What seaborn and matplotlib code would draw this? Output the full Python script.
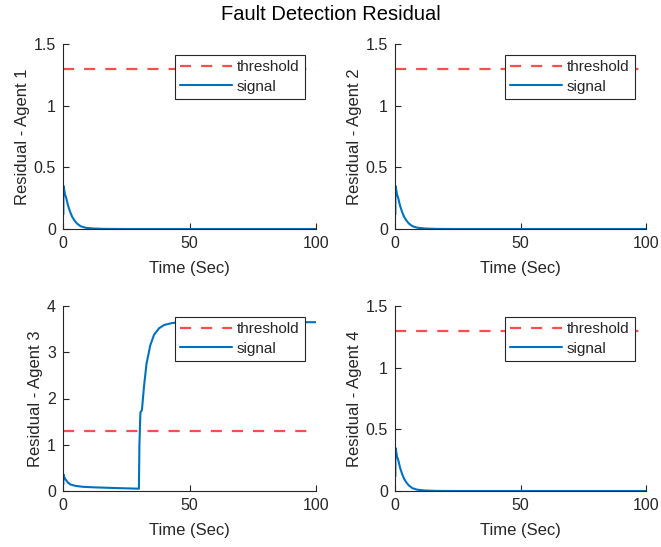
import matplotlib
matplotlib.use("Agg")
import matplotlib.pyplot as plt
import seaborn as sns
import pandas as pd

# ---- data ----
threshold = 1.3
t_range = [0, 100]

t_normal = [0.15, 0.15, 0.4, 0.8, 1.3, 2.0, 2.8, 3.6, 4.5, 5.5, 7.0, 9.0, 12.0, 16.0, 25.0, 100.0]
v_agent1 = [0.12, 0.35, 0.33, 0.28, 0.25, 0.19, 0.14, 0.10, 0.07, 0.045, 0.022, 0.010, 0.004, 0.001, 0.0, 0.0]
v_agent2 = [0.12, 0.35, 0.33, 0.28, 0.25, 0.19, 0.14, 0.10, 0.07, 0.045, 0.022, 0.010, 0.004, 0.001, 0.0, 0.0]
v_agent4 = [0.12, 0.35, 0.33, 0.28, 0.25, 0.19, 0.14, 0.10, 0.07, 0.045, 0.022, 0.010, 0.004, 0.001, 0.0, 0.0]

t_agent3 = [0.15, 0.15, 0.5, 1.0, 2.0, 3.0, 5.0, 8.0, 12.0, 20.0, 30.0, 30.2, 30.6, 31.2, 32.0, 33.0, 34.5, 36.0, 38.0, 40.0, 43.0, 46.0, 50.0, 100.0]
v_agent3 = [0.15, 0.36, 0.30, 0.25, 0.18, 0.14, 0.11, 0.09, 0.08, 0.065, 0.05, 1.0, 1.70, 1.75, 2.25, 2.75, 3.15, 3.38, 3.52, 3.59, 3.63, 3.65, 3.65, 3.65]

agents = ["Agent 1", "Agent 2", "Agent 3", "Agent 4"]
times = [t_normal, t_normal, t_agent3, t_normal]
values = [v_agent1, v_agent2, v_agent3, v_agent4]
ylims = [(0, 1.5), (0, 1.5), (0, 4), (0, 1.5)]
yticks = [[0, 0.5, 1, 1.5], [0, 0.5, 1, 1.5], [0, 1, 2, 3, 4], [0, 0.5, 1, 1.5]]
yticklabels = [["0", "0.5", "1", "1.5"], ["0", "0.5", "1", "1.5"],
               ["0", "1", "2", "3", "4"], ["0", "0.5", "1", "1.5"]]
xticks = [0, 50, 100]

# ---- styling ----
sns.set_style("ticks")
plt.rcParams["font.family"] = ["Liberation Sans", "DejaVu Sans"]
plt.rcParams["xtick.direction"] = "in"
plt.rcParams["ytick.direction"] = "in"

RED = "#FF4D4D"
BLUE = "#0072BD"
AXC = "#262626"

W, H = 661, 547
fig = plt.figure(figsize=(W / 100, H / 100), dpi=100)

boxes_px = [(63, 316, 44, 229), (395, 646, 44, 229),
            (63, 316, 306, 491), (395, 646, 306, 491)]

for i in range(4):
    l, r, t, b = boxes_px[i]
    ax = fig.add_axes([l / W, 1 - b / H, (r - l) / W, (b - t) / H])
    df_thr = pd.DataFrame({"t": t_range, "v": [threshold, threshold]})
    df_sig = pd.DataFrame({"t": times[i], "v": values[i]})
    sns.lineplot(data=df_thr, x="t", y="v", ax=ax, color=RED, lw=1.6,
                 label="threshold", sort=False, estimator=None)
    ax.lines[-1].set_dashes((5, 4.5))
    sns.lineplot(data=df_sig, x="t", y="v", ax=ax, color=BLUE, lw=1.5,
                 label="signal", sort=False, estimator=None)
    ax.set_xlim(0, 100)
    ax.set_ylim(*ylims[i])
    ax.set_xticks(xticks)
    ax.set_xticklabels([str(x) for x in xticks])
    ax.set_yticks(yticks[i])
    ax.set_yticklabels(yticklabels[i])
    ax.set_xlabel("Time (Sec)", fontsize=12, color=AXC, labelpad=7)
    ax.set_ylabel("Residual - " + agents[i], fontsize=12, color=AXC, labelpad=3)
    ax.tick_params(labelsize=11.5, colors=AXC, length=4, width=0.8)
    ax.tick_params(axis="x", pad=5)
    ax.tick_params(axis="y", pad=5)
    for s in ["top", "right"]:
        ax.spines[s].set_visible(False)
    for s in ["left", "bottom"]:
        ax.spines[s].set_color(AXC)
        ax.spines[s].set_linewidth(0.8)
    leg = ax.legend(loc="upper right", bbox_to_anchor=(0.955, 0.94),
                    borderaxespad=0, fontsize=11, frameon=True, fancybox=False,
                    handlelength=3.4, handletextpad=0.3, borderpad=0.35,
                    labelspacing=0.35, edgecolor=AXC, framealpha=1)
    leg.get_frame().set_linewidth(0.8)

fig.suptitle("Fault Detection Residual", fontsize=14.5, x=0.5, y=0.99, color="black")
fig.savefig("out.png", dpi=100)
